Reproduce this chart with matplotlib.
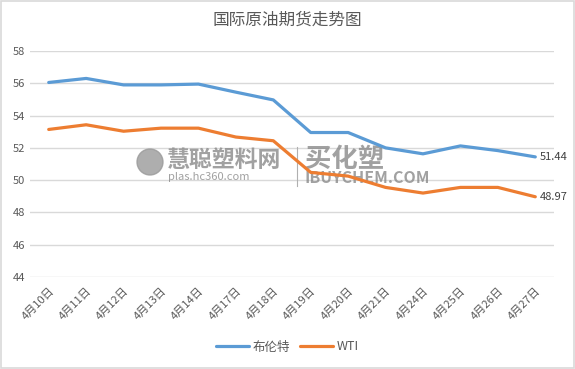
import matplotlib.pyplot as plt
from matplotlib.patches import Ellipse

plt.rcParams['font.family'] = ['Noto Sans CJK SC', 'DejaVu Sans']

dates = ["4月10日", "4月11日", "4月12日", "4月13日", "4月14日", "4月17日", "4月18日",
         "4月19日", "4月20日", "4月21日", "4月24日", "4月25日", "4月26日", "4月27日"]
brent = [56.05, 56.3, 55.9, 55.9, 55.95, 55.45, 54.97, 52.95, 52.95, 52.0, 51.63, 52.12, 51.83, 51.44]
wti = [53.14, 53.43, 53.03, 53.22, 53.22, 52.67, 52.44, 50.48, 50.25, 49.55, 49.2, 49.55, 49.55, 48.97]
yticks = [44, 46, 48, 50, 52, 54, 56, 58]

fig = plt.figure(figsize=(5.75, 3.69), dpi=100)
ax = fig.add_axes([30/575, 92/369, 524/575, 226/369])

x = range(len(dates))
ax.plot(x, brent, color='#5B9BD5', lw=2.3, label='布伦特', solid_capstyle='round', zorder=3)
ax.plot(x, wti, color='#ED7D31', lw=2.3, label='WTI', solid_capstyle='round', zorder=3)

ax.annotate(f"{brent[-1]:.2f}", (x[-1], brent[-1]), xytext=(3, 0), textcoords='offset points',
            va='center', ha='left', fontsize=8, color='#404040')
ax.annotate(f"{wti[-1]:.2f}", (x[-1], wti[-1]), xytext=(3, 0), textcoords='offset points',
            va='center', ha='left', fontsize=8, color='#404040')

# watermark (under the lines)
wm = dict(color='#8a8a8a', alpha=0.8, transform=fig.transFigure, zorder=1, va='center')
ax.text(167/575, 1 - 160/369, '慧聪塑料网', fontsize=16.5, fontweight='bold', style='italic', **wm)
ax.text(168/575, 1 - 177/369, 'plas.hc360.com', fontsize=8, **wm)
ax.text(305/575, 1 - 159/369, '买化塑', fontsize=19, fontweight='bold', style='italic', **wm)
ax.text(305/575, 1 - 178/369, 'IBUYCHEM.COM', fontsize=11.5, fontweight='bold', style='italic', **wm)
ax.add_artist(Ellipse((150/575, 1 - 162/369), 26/575, 26/369, color='#9a9a9a', alpha=0.8,
                      transform=fig.transFigure, zorder=1))
ax.add_artist(plt.Line2D([297/575, 297/575], [1 - 147/369, 1 - 186/369], color='#b0b0b0',
                         lw=0.8, transform=fig.transFigure, zorder=1))

ax.set_xlim(-0.5, len(dates) - 0.5)
ax.set_ylim(44, 58)
ax.set_yticks(yticks)
ax.set_xticks(list(x))
ax.set_xticklabels(dates, rotation=45, ha='right', rotation_mode='anchor')
ax.tick_params(axis='both', length=0, labelsize=8, colors='#595959')
ax.tick_params(axis='x', pad=6)
ax.grid(axis='y', color='#d9d9d9', lw=1)
ax.set_axisbelow(True)
for s in ax.spines.values():
    s.set_visible(False)

fig.text(0.5, 1 - 20/369, '国际原油期货走势图', ha='center', va='center', fontsize=12, color='#595959')
ax.legend(loc='center', bbox_to_anchor=(0.5, 1 - 347/369), bbox_transform=fig.transFigure,
          ncol=2, frameon=False, fontsize=9, handlelength=2.6, columnspacing=0.8, handletextpad=0.3,
          labelcolor='#595959')

fig.add_artist(plt.Rectangle((0.001, 0.002), 0.997, 0.995, fill=False, ec='#d9d9d9', lw=1.2,
                             transform=fig.transFigure))
fig.savefig('out.png', dpi=100)
